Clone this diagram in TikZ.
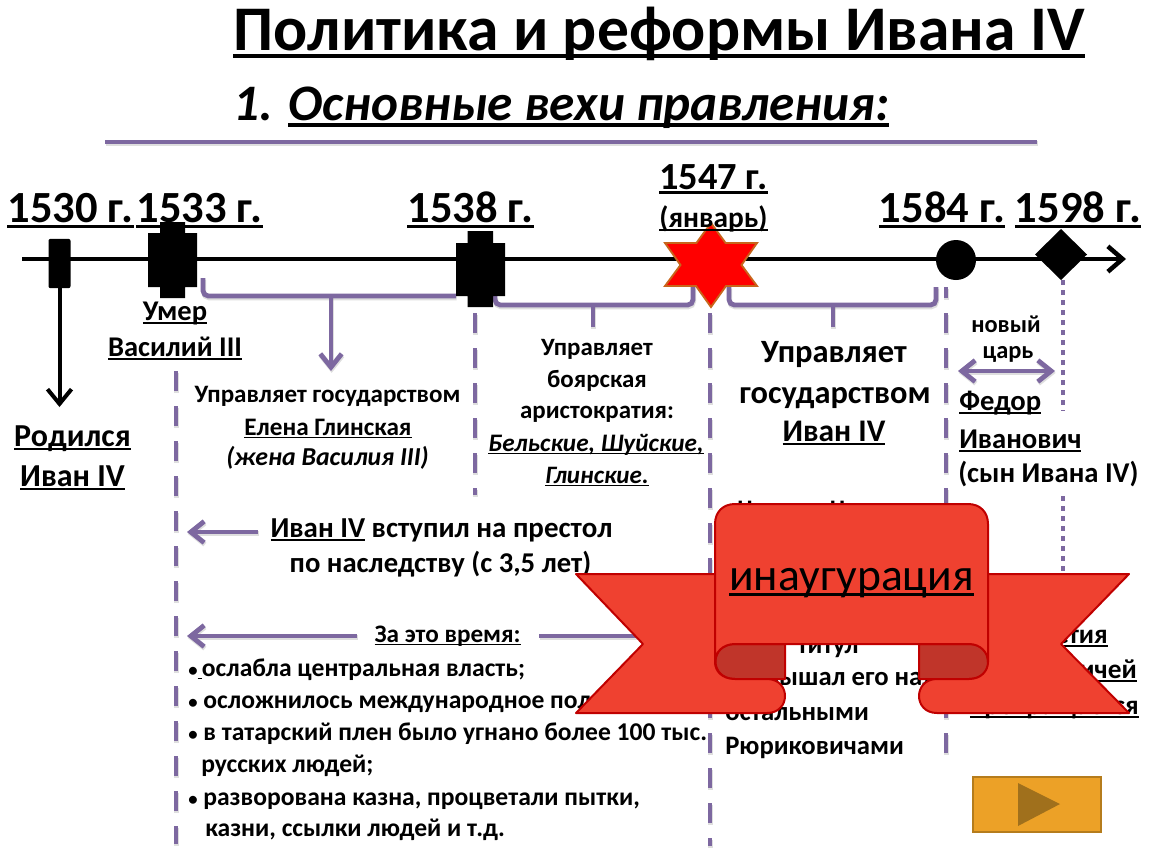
\documentclass[tikz,border=0pt]{standalone}
\usepackage{fontspec}
\setmainfont{Carlito}
\usetikzlibrary{arrows.meta}
\definecolor{viol}{HTML}{7D68A0}
\definecolor{ribbon}{HTML}{EF4130}
\definecolor{ribedge}{HTML}{C00000}
\definecolor{ribdark}{HTML}{C0352A}
\definecolor{btn}{HTML}{ECA127}
\definecolor{btnedge}{HTML}{B57C1C}
\definecolor{btntri}{HTML}{A0701C}
\definecolor{staredge}{HTML}{C8651B}
\newcommand\ul[1]{\setbox0\hbox{#1}\rlap{\rule[-0.13em]{\wd0}{0.07em}}\box0\relax}
\newcommand\bul{{\fontsize{14}{14}\selectfont•}}
\tikzset{
  x=.75pt,y=-.75pt,
  tr/.style={inner sep=0,anchor=base,font=\fontsize{#1}{#1}\selectfont},
  tb/.style={inner sep=0,anchor=base,font=\fontsize{#1}{#1}\selectfont\bfseries},
  ti/.style={inner sep=0,anchor=base,font=\fontsize{#1}{#1}\selectfont\itshape},
  tbi/.style={inner sep=0,anchor=base,font=\fontsize{#1}{#1}\selectfont\bfseries\itshape},
  shad/.style={preaction={draw=black!45,opacity=.28,line width=3.6pt,transform canvas={yshift=-1.4pt,xshift=.5pt}}},
  vline/.style={draw=viol,line width=3.6pt,shad},
  vdash/.style={draw=viol,line width=3.6pt,dash pattern=on 15pt off 11.25pt,preaction={draw=black!45,opacity=.28,line width=3.6pt,dash pattern=on 15pt off 11.25pt,transform canvas={yshift=-1.4pt,xshift=.5pt}}},
  vdot/.style={draw=viol,line width=3.4pt,dash pattern=on 3.6pt off 3.9pt},
  bracket/.style={vline,rounded corners=4pt},
  vhead/.style={-{Straight Barb[length=10pt,width=16pt,line width=3.6pt]}},
  vhead2/.style={{Straight Barb[length=10pt,width=16pt,line width=3.6pt]}-{Straight Barb[length=10pt,width=16pt,line width=3.6pt]}},
  blackmark/.style={fill=black,draw=none},
  rib/.style={fill=ribbon,draw=ribedge,line width=1.5pt,line join=round},
  ribd/.style={fill=ribdark,draw=ribedge,line width=1.5pt,line join=round},
}
\begin{document}
\begin{tikzpicture}
\useasboundingbox (0,0) rectangle (1150,864);
\fill[white] (0,0) rectangle (1150,864);
% coordinates
\coordinate (ruleL) at (105,142); \coordinate (ruleR) at (1037,142);
\coordinate (axL) at (22,259); \coordinate (axR) at (1126,259);
\coordinate (birthB) at (59.5,407);
\coordinate (d1T) at (176,371); \coordinate (d1B) at (176,844);
\coordinate (d2T) at (475,313); \coordinate (d2B) at (475,495);
\coordinate (d3T) at (710,313); \coordinate (d3B) at (710,846);
\coordinate (d4T) at (946,287); \coordinate (d4B) at (946,753);
\coordinate (p1T) at (1063,280); \coordinate (p1B) at (1063,411);
\coordinate (p2T) at (1063,496); \coordinate (p2B) at (1063,600);
\coordinate (b1s) at (203,278); \coordinate (b1e) at (456,296);
\coordinate (b1m) at (331,296); \coordinate (b1a) at (331,371);
\coordinate (b2s) at (495,296); \coordinate (b2e) at (693,287);
\coordinate (b2m) at (593,305); \coordinate (b2a) at (593,327);
\coordinate (b3s) at (729,287); \coordinate (b3e) at (936,287);
\coordinate (b3m) at (833,305); \coordinate (b3a) at (833,327);
\coordinate (dblL) at (958,371); \coordinate (dblR) at (1055,371);
\coordinate (a1s) at (258,532); \coordinate (a1e) at (187,532);
\coordinate (a2s) at (357,636); \coordinate (a2e) at (187,636);
\coordinate (a3s) at (539,636); \coordinate (a3e) at (660,636);
% rule and axis
\draw[vline] (ruleL) -- (ruleR);
\draw[line width=3.4pt,draw=black,-{Straight Barb[length=11pt,width=19pt,line width=3.4pt]}] (axL) -- (axR);
% dashed
\draw[vdash] (d1T) -- (d1B);
\draw[vdash] (d2T) -- (d2B);
\draw[vdash] (d3T) -- (d3B);
\draw[vdash,dash phase=6.75pt] (d4T) -- (d4B);
\draw[vdot] (p1T) -- (p1B);
\draw[vdot] (p2T) -- (p2B);
% brackets
\draw[bracket] (b1s) |- (b1e);
\draw[vline,vhead] (b1m) -- (b1a);
\draw[bracket] (b2s) |- (b2m) -| (b2e);
\draw[vline] (b2m) -- (b2a);
\draw[bracket] (b3s) |- (b3m) -| (b3e);
\draw[vline] (b3m) -- (b3a);
\draw[vline,vhead2] (dblL) -- (dblR);
\draw[vline,vhead] (a1s) -- (a1e);
\draw[vline,vhead] (a2s) -- (a2e);
\draw[vline] (a3s) -- (a3e);
% markers
\node[blackmark,rounded corners=1.5pt,minimum width=16.5pt,minimum height=37pt,inner sep=0] (m1530) at (59.5,263.5) {};
\draw[line width=3pt,-{Straight Barb[length=11pt,width=18pt,line width=3pt]}] (m1530.south) -- (birthB);
\fill[black] (148,233) rectangle (197,287) (160,222) rectangle (185,298);
\fill[black] (456,243) rectangle (505,296) (467.5,231) rectangle (493,307);
\draw[fill=red,draw=staredge,line width=1.4pt,line join=miter] (711,223) -- (725.6,243) -- (757,243) -- (741.5,265) -- (757,286) -- (726,286) -- (711,307) -- (696,286) -- (665,286) -- (680.5,265) -- (665,243) -- (696.4,243) -- cycle;
\node[blackmark,circle,minimum size=30pt,inner sep=0] (m1584) at (956,260) {};
\fill[black] (1061,229) -- (1087,254.5) -- (1061,280) -- (1035,254.5) -- cycle;
% title
\node[tb=47.7,anchor=base west] (title) at (233,50) {\ul{Политика и реформы Ивана IV}};
\node[tbi=38.4,anchor=base west] (subtitle) at (233,120) {1. \ul{Основные вехи правления:}};
% dates
\node[tb=33.4] (y1530) at (70.5,222) {\ul{1530 г.}};
\node[tb=33.4] (y1533) at (199.5,222) {\ul{1533 г.}};
\node[tb=33.4] (y1538) at (470.5,222) {\ul{1538 г.}};
\node[tb=28.8] (y1547) at (713.5,189) {\ul{1547 г.}};
\node[tb=22] (jan) at (713.5,227) {\ul{(январь)}};
\node[tb=33.4] (y1584) at (942,222) {\ul{1584 г.}};
\node[tb=33.4] (y1598) at (1078,222) {\ul{1598 г.}};
% left labels
\node[tb=21.4] (umer) at (175,320) {\ul{Умер}};
\node[tb=21.4] (vas) at (175,356) {\ul{Василий III}};
\node[tb=24] (rod) at (72.5,446) {\ul{Родился}};
\node[tb=24] (ivan) at (72.5,486) {\ul{Иван IV}};
% Elena
\node[tb=18.8] (e1) at (327.5,402) {Управляет государством};
\node[tb=18.9] (e2) at (328,435) {\ul{Елена Глинская}};
\node[tbi=19.4] (e3) at (327.5,465) {(жена Василия III)};
% boyars
\node[tb=18.7] (b1) at (597,355) {Управляет};
\node[tb=18.7] (b2) at (597,387) {боярская};
\node[tb=18.7] (b3) at (597,418) {аристократия:};
\node[tbi=18.9] (b4) at (596,451) {\ul{Бельские, Шуйские,}};
\node[tbi=18.8] (b5) at (597,483) {\ul{Глинские.}};
% Ivan
\node[tb=24.4] (i1) at (834,362) {Управляет};
\node[tb=24.3] (i2) at (835,403) {государством};
\node[tb=23.6] (i3) at (834,441) {\ul{Иван IV}};
\node[tb=18.9,anchor=base west] (i4) at (737,517) {Царь – «Цезарь»};
\node[tb=20] (i5) at (828,653) {титул};
\node[tb=20,anchor=base west] (i6) at (725,685) {Возвышал его над};
\node[tb=20,anchor=base west] (i7) at (725,720) {остальными};
\node[tb=20,anchor=base west] (i8) at (725,754) {Рюриковичами};
% new tsar
\node[tb=18.3] (n1) at (1006,332) {новый};
\node[tb=18.3] (n2) at (1008,358) {царь};
\node[tb=21.5,anchor=base west] (f1) at (959,410) {\ul{Федор}};
\node[tb=21.5,anchor=base west] (f2) at (959,448) {\ul{Иванович}};
\node[tb=21.5,anchor=base west] (f3) at (958,482) {(сын Ивана IV)};
\node[tb=20.5,anchor=base east] (r1) at (1108,643) {\ul{Династия}};
\node[tb=20.5,anchor=base east] (r2) at (1137,678) {\ul{Рюриковичей}};
\node[tb=20.5,anchor=base east] (r3) at (1139,714) {\ul{прекращается}};
% middle text
\node[tb=21.7] (v1) at (441.5,537) {\ul{Иван IV} вступил на престол};
\node[tb=21.5] (v2) at (440.5,572) {по наследству (с 3,5 лет)};
\node[tb=18.9] (z0) at (447.5,642) {\ul{За это время:}};
\node[tb=19.2,anchor=base west] (z1) at (188,676) {\bul\ul{\,}ослабла центральная власть;};
\node[tb=19.2,anchor=base west] (z2) at (188,708) {\bul\ осложнилось международное положение;};
\node[tb=19.2,anchor=base west] (z3) at (188,740) {\bul\ в татарский плен было угнано более 100 тыс.};
\node[tb=19.2,anchor=base west] (z4) at (201,772) {русских людей;};
\node[tb=19.2,anchor=base west] (z5) at (188,805) {\bul\ разворована казна, процветали пытки,};
\node[tb=19.2,anchor=base west] (z6) at (205,836) {казни, ссылки людей и т.д.};
% ribbon
\draw[ribd] (785,644) -- (735,644) .. controls (709,644) and (709,679) .. (735,679) -- (785,679) -- cycle;
\draw[ribd] (919,644) -- (969,644) .. controls (995,644) and (995,679) .. (969,679) -- (919,679) -- cycle;
\draw[rib] (725,574) -- (576,574) -- (643,644) -- (576,713) -- (767,713) .. controls (791,713) and (791,679) .. (767,679) -- (735,679) .. controls (722,679) and (715,671) .. (715,662) -- (725,574) -- cycle;
\draw[rib] (980,574) -- (1129,574) -- (1061,644) -- (1129,713) -- (937,713) .. controls (913,713) and (913,679) .. (937,679) -- (969,679) .. controls (981,679) and (988,671) .. (988,662) -- (980,574) -- cycle;
\draw[rib] (715,662) -- (715,524) .. controls (715,512) and (723,504) .. (735,504) -- (968,504) .. controls (980,504) and (988,512) .. (988,524) -- (988,662) .. controls (988,652) and (980,644) .. (969,644) -- (735,644) .. controls (723,644) and (715,652) .. (715,662) -- cycle;
\node[tr=34.2] (ina) at (851.5,590) {\ul{инаугурация}};
% button
\node[fill=btn,draw=btnedge,line width=1.5pt,minimum width=96pt,minimum height=41pt,inner sep=0] (btn) at (1036.5,804.5) {};
\fill[btntri] (1018,783) -- (1060,804) -- (1018,826) -- cycle;
\end{tikzpicture}
\end{document}
